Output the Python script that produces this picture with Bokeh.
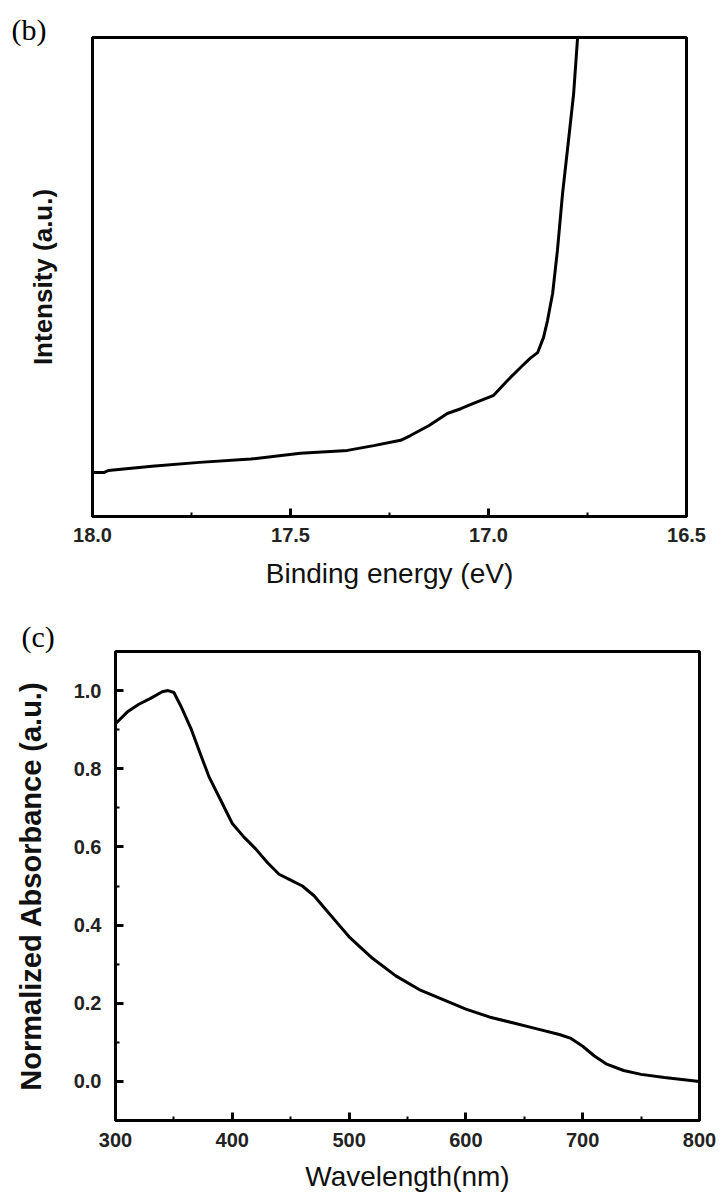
from bokeh.plotting import figure
from bokeh.layouts import column
from bokeh.models import Range1d, FixedTicker, PrintfTickFormatter
from bokeh.embed import file_html
from bokeh.resources import INLINE

# ---- panel (b): UPS cutoff ----
binding_energy = [18.0, 17.97, 17.96, 17.85, 17.73, 17.60, 17.475, 17.356, 17.29, 17.222,
                  17.197, 17.15, 17.104, 17.07, 17.038, 16.987, 16.952, 16.919, 16.895,
                  16.876, 16.861, 16.851, 16.838, 16.826, 16.813, 16.798, 16.785, 16.775]
intensity = [9.2, 9.2, 9.6, 10.5, 11.3, 12.0, 13.2, 13.8, 14.8, 15.9,
             16.9, 19.0, 21.5, 22.5, 23.6, 25.3, 28.4, 31.1, 33.0,
             34.2, 37.4, 40.9, 46.6, 55.5, 67.4, 78.5, 88.3, 100.0]
be_major = [18.0, 17.5, 17.0, 16.5]
be_minor = [17.75, 17.25, 16.75]

# ---- panel (c): absorbance ----
wavelength = [300, 310, 320, 330, 340, 345, 350, 356, 365, 373, 380, 390, 400, 410, 420,
              430, 440, 450, 460, 470, 480, 490, 500, 520, 540, 560, 580, 600, 620, 640,
              660, 680, 690, 700, 710, 720, 735, 750, 770, 785, 800]
absorbance = [0.915, 0.945, 0.965, 0.98, 0.997, 1.0, 0.995, 0.96, 0.90, 0.835, 0.78, 0.72,
              0.66, 0.625, 0.595, 0.56, 0.53, 0.515, 0.50, 0.475, 0.44, 0.405, 0.37, 0.315,
              0.27, 0.235, 0.21, 0.185, 0.165, 0.15, 0.135, 0.12, 0.11, 0.09, 0.065, 0.045,
              0.028, 0.018, 0.01, 0.005, 0.0]
wl_major = [300, 400, 500, 600, 700, 800]
wl_minor = [350, 450, 550, 650, 750]
ab_major = [0.0, 0.2, 0.4, 0.6, 0.8, 1.0]
ab_minor = [0.1, 0.3, 0.5, 0.7, 0.9]

SANS = "Liberation Sans"
SERIF = "Liberation Serif"


def style_axis(ax):
    ax.axis_line_width = 3
    ax.axis_line_color = "black"
    ax.major_tick_in = 8
    ax.major_tick_out = 0
    ax.minor_tick_in = 4
    ax.minor_tick_out = 0
    ax.major_tick_line_width = 3
    ax.minor_tick_line_width = 2
    ax.major_label_text_font = SANS
    ax.major_label_text_font_style = "bold"
    ax.major_label_text_font_size = "20px"
    ax.major_label_text_color = "#222222"
    ax.axis_label_text_font = SANS
    ax.axis_label_text_color = "#111111"


def style_panel_title(p, text, offset, standoff):
    p.title.text = text
    p.title.align = "left"
    p.title.offset = offset
    p.title.standoff = standoff
    p.title.text_font = SERIF
    p.title.text_font_style = "normal"
    p.title.text_font_size = "30px"
    p.title.text_color = "black"
    p.title.vertical_align = "bottom"


# ---------- figure (b) ----------
p1 = figure(width=721, height=600, x_range=Range1d(18.0, 16.5), y_range=Range1d(0, 100),
            output_backend="svg", toolbar_location=None, title_location="above",
            min_border_left=92, min_border_right=35, min_border_top=37, min_border_bottom=84)
p1.frame_align = False
p1.line(binding_energy, intensity, line_color="black", line_width=3)
p1.xgrid.visible = False
p1.ygrid.visible = False
p1.outline_line_color = "black"
p1.outline_line_width = 3
p1.outline_line_alpha = 1
style_panel_title(p1, "(b)", -81, -16)

style_axis(p1.xaxis[0])
p1.xaxis.ticker = FixedTicker(ticks=be_major, minor_ticks=be_minor)
p1.xaxis.formatter = PrintfTickFormatter(format="%.1f")
p1.xaxis.axis_label = "Binding energy (eV)"
p1.xaxis.axis_label_text_font_style = "normal"
p1.xaxis.axis_label_text_font_size = "28px"
p1.xaxis.major_label_standoff = 11
p1.xaxis.axis_label_standoff = 13

style_axis(p1.yaxis[0])
p1.yaxis.ticker = FixedTicker(ticks=[], minor_ticks=[])
p1.yaxis.axis_label = "Intensity (a.u.)"
p1.yaxis.axis_label_text_font_style = "bold"
p1.yaxis.axis_label_text_font_size = "26px"
p1.yaxis.axis_label_standoff = 35

# ---------- figure (c) ----------
p2 = figure(width=721, height=598, x_range=Range1d(300, 800), y_range=Range1d(-0.1, 1.1),
            output_backend="svg", toolbar_location=None, title_location="above",
            min_border_left=115, min_border_right=22, min_border_top=51, min_border_bottom=78)
p2.frame_align = False
p2.line(wavelength, absorbance, line_color="black", line_width=3)
p2.xgrid.visible = False
p2.ygrid.visible = False
p2.outline_line_color = "black"
p2.outline_line_width = 3
p2.outline_line_alpha = 1
style_panel_title(p2, "(c)", -94, -2)

style_axis(p2.xaxis[0])
p2.xaxis.ticker = FixedTicker(ticks=wl_major, minor_ticks=wl_minor)
p2.xaxis.axis_label = "Wavelength(nm)"
p2.xaxis.axis_label_text_font_style = "normal"
p2.xaxis.axis_label_text_font_size = "28px"
p2.xaxis.major_label_standoff = 12
p2.xaxis.axis_label_standoff = 11

style_axis(p2.yaxis[0])
p2.yaxis.ticker = FixedTicker(ticks=ab_major, minor_ticks=ab_minor)
p2.yaxis.formatter = PrintfTickFormatter(format="%.1f")
p2.yaxis.axis_label = "Normalized Absorbance (a.u.)"
p2.yaxis.axis_label_text_font_style = "bold"
p2.yaxis.axis_label_text_font_size = "29px"
p2.yaxis.major_label_standoff = 14
p2.yaxis.axis_label_standoff = 24

layout = column(p1, p2, spacing=0)
open("out.html", "w").write(file_html(layout, INLINE))
